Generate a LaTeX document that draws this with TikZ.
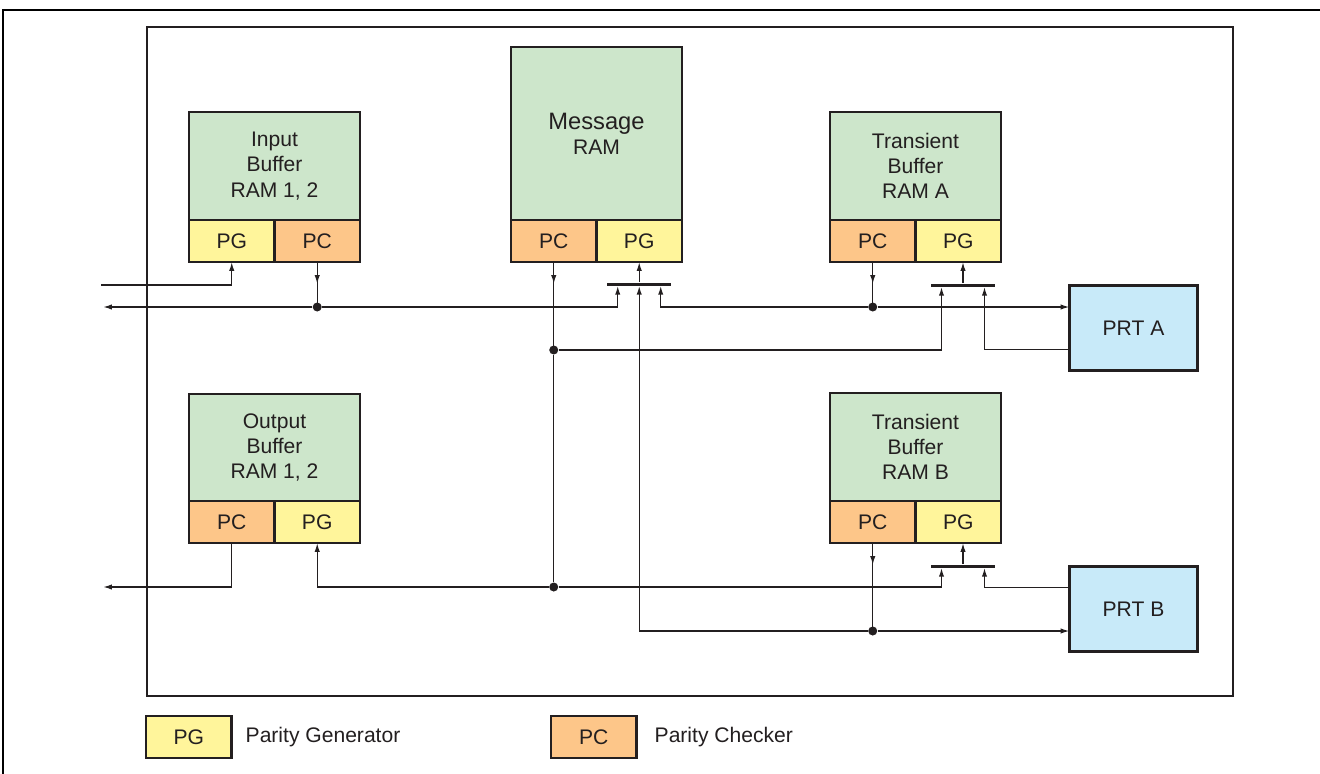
\documentclass[tikz,border=0pt]{standalone}
\usepackage{fontspec}
\setmainfont{Liberation Sans}
\usetikzlibrary{arrows.meta, positioning, decorations.markings}

\definecolor{ramgreen}{HTML}{CDE6CB}
\definecolor{pgyellow}{HTML}{FFF59B}
\definecolor{pcorange}{HTML}{FDC689}
\definecolor{prtblue}{HTML}{C8EAF9}
\definecolor{linecol}{HTML}{231F20}

\begin{document}
\begin{tikzpicture}[x=0.02cm, y=-0.02cm,
    ram/.style={draw=linecol, line width=1.6pt, outer sep=0pt, fill=ramgreen, minimum width=3.42cm, align=center, text=linecol, font=\fontsize{12}{14.4}\selectfont},
    pg/.style={draw=linecol, line width=1.6pt, outer sep=0pt, fill=pgyellow, minimum width=1.71cm, minimum height=0.84cm, text=linecol, font=\fontsize{12}{14.4}\selectfont},
    pc/.style={pg, fill=pcorange},
    prt/.style={draw=linecol, line width=1.6pt, outer sep=0pt, fill=prtblue, minimum width=2.56cm, minimum height=1.7cm, text=linecol, font=\fontsize{12}{14.4}\selectfont},
    mux/.style={fill=linecol, inner sep=0pt, minimum width=1.28cm, minimum height=0.06cm},
    dot/.style={circle, fill=linecol, inner sep=0pt, minimum size=0.18cm},
    flow/.style={draw=linecol, line width=0.8pt},
    tip/.style={-{Latex[length=5pt,width=3pt]}},
    midarrow/.style={postaction={decorate}, decoration={markings, mark=at position 0.44cm with {\arrow{Latex[length=5pt,width=3pt]}}}},
    keytext/.style={text=linecol, font=\fontsize{12}{14.4}\selectfont}
]
\useasboundingbox (0,0) rectangle (1320,774);

% Frames
\draw[line width=1.2pt] (3,774) -- (3,10) -- (1320,10);
\draw[linecol, line width=0.9pt] (147,27) rectangle (1233,696);

% Input Buffer
\node[ram, minimum height=2.16cm, anchor=south west] (inbuf) at (189,220) {Input\\Buffer\\RAM 1, 2};
\node[pg, anchor=north west] (inbufpg) at (inbuf.south west) {PG};
\node[pc, anchor=west] (inbufpc) at (inbufpg.east) {PC};

% Message RAM
\node[ram, minimum height=3.46cm, anchor=south west] (msgram) at (511,220) {{\fontsize{13.5}{15}\selectfont Message}\\RAM};
\node[pc, anchor=north west] (msgpc) at (msgram.south west) {PC};
\node[pg, anchor=west] (msgpg) at (msgpc.east) {PG};

% Transient Buffer A
\node[ram, minimum height=2.16cm, anchor=south west] (trana) at (830,220) {Transient\\Buffer\\RAM A};
\node[pc, anchor=north west] (tranapc) at (trana.south west) {PC};
\node[pg, anchor=west] (tranapg) at (tranapc.east) {PG};

% Output Buffer
\node[ram, minimum height=2.14cm, anchor=south west] (outbuf) at (189,501) {Output\\Buffer\\RAM 1, 2};
\node[pc, anchor=north west] (outbufpc) at (outbuf.south west) {PC};
\node[pg, anchor=west] (outbufpg) at (outbufpc.east) {PG};

% Transient Buffer B
\node[ram, minimum height=2.16cm, anchor=south west] (tranb) at (830,501) {Transient\\Buffer\\RAM B};
\node[pc, anchor=north west] (tranbpc) at (tranb.south west) {PC};
\node[pg, anchor=west] (tranbpg) at (tranbpc.east) {PG};

% Protocol engines
\node[prt] (prta) at (1133.5,328) {PRT A};
\node[prt] (prtb) at (1133.5,609) {PRT B};

% Multiplexer bars
\node[mux] (msgmux) at (msgpg.south |- 0,284) {};
\node[mux] (tranamux) at (963,285) {};
\node[mux] (tranbmux) at (963,566) {};

% Junctions
\node[dot] (inbufdot) at (inbufpc.south |- 0,307) {};
\node[dot] (msgdot) at (msgpc.south |- 0,350) {};
\node[dot] (tranadot) at (tranapc.south |- 0,307) {};
\node[dot] (outdot) at (msgpc.south |- 0,587) {};
\node[dot] (tranbdot) at (tranbpc.south |- 0,631) {};
\coordinate (hostin) at (101,285);
\coordinate (hostout) at (103,307);
\coordinate (outbufout) at (103,587);

% Connections
\draw[flow, tip] (hostin) -| (inbufpg.south);
\draw[flow, midarrow] (inbufpc.south) -- (inbufdot.center);
\draw[flow, tip] (inbufdot) -- (hostout);
\draw[flow, tip] (inbufdot) -| ([xshift=-0.43cm]msgmux.south);
\draw[flow, tip] (msgmux.north) -- (msgpg.south);
\draw[flow, midarrow] (msgpc.south) -- (msgdot.center);
\draw[flow] (msgdot) -- (outdot);
\draw[flow, tip] (msgdot) -| ([xshift=-0.43cm]tranamux.south);
\draw[flow, tip] (outdot) -| (outbufpg.south);
\draw[flow, tip] (outdot) -| ([xshift=-0.43cm]tranbmux.south);
\draw[flow, tip] (tranamux.north) -- (tranamux.north |- tranapg.south);
\draw[flow, midarrow] (tranapc.south) -- (tranadot.center);
\draw[flow, tip] (tranadot) -- (tranadot -| prta.west);
\draw[flow, tip] (tranadot) -| ([xshift=0.43cm]msgmux.south);
\draw[flow, tip] ([yshift=-0.43cm]prta.west) -| ([xshift=0.43cm]tranamux.south);
\draw[flow, midarrow] (tranbpc.south) -- (tranbdot.center);
\draw[flow, tip] (tranbdot) -- (tranbdot -| prtb.west);
\draw[flow, tip] (tranbdot) -| (msgmux.south);
\draw[flow, tip] ([yshift=0.43cm]prtb.west) -| ([xshift=0.43cm]tranbmux.south);
\draw[flow, tip] (tranbmux.north) -- (tranbmux.north |- tranbpg.south);
\draw[flow, tip] (outbufpc.south) |- (outbufout);

% Legend
\node[pg, anchor=north west] (keypg) at (146,716) {PG};
\node[keytext, right=0.16cm of keypg] (keypgtext) {Parity Generator};
\node[pc, anchor=north west] (keypc) at (551,716) {PC};
\node[keytext, right=0.24cm of keypc] (keypctext) {Parity Checker};

\end{tikzpicture}
\end{document}
